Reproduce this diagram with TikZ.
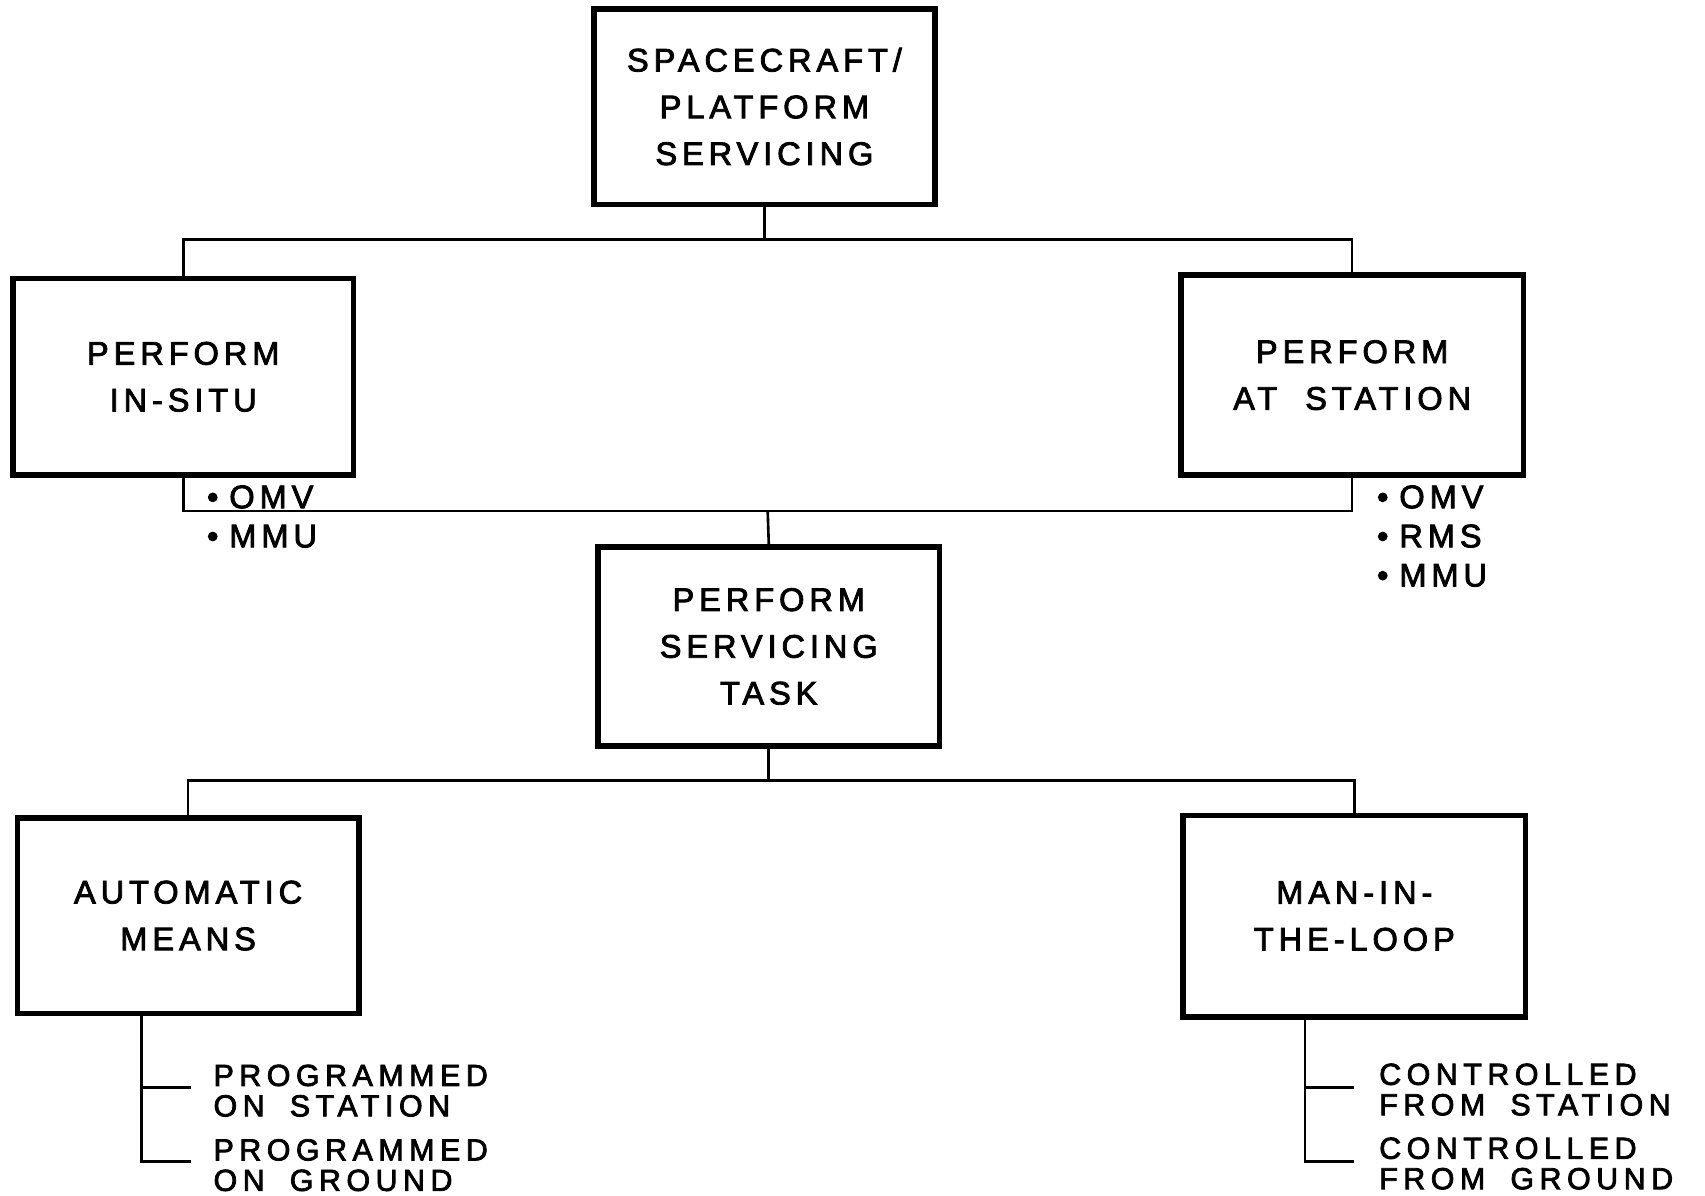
\documentclass[tikz,border=0pt]{standalone}
\usepackage{fontspec}
\setmainfont{Liberation Sans}
\newfontfamily\boxfont[LetterSpace=15,WordSpace=2.0,FakeBold=2.5]{Liberation Sans}
\newfontfamily\leaffont[LetterSpace=18,WordSpace=1.8,FakeBold=2.5]{Liberation Sans}
\begin{document}
\begin{tikzpicture}[x=0.5pt,y=-0.5pt,
  box/.style={draw,line width=2.6pt,inner sep=0pt,align=center,
    font=\boxfont\fontsize{15}{21.5}\selectfont},
  link/.style={line width=1.2pt},
  tag/.style={inner sep=0pt,anchor=west,align=left,
    font=\boxfont\fontsize{15}{18}\selectfont},
  leaf/.style={inner sep=0pt,anchor=west,align=left,
    font=\leaffont\fontsize{14}{14}\selectfont}]
\useasboundingbox (0,0) rectangle (1568,1099);

% boxes
\node[box,minimum width=157pt,minimum height=90pt] (top) at (703,98)
  {SPACECRAFT/\\PLATFORM\\SERVICING};
\node[box,minimum width=156.5pt,minimum height=90.5pt] (insitu) at (168.5,346.5)
  {PERFORM\\IN-SITU};
\node[box,minimum width=157.5pt,minimum height=92pt] (atst) at (1243.5,345)
  {PERFORM\\AT STATION};
\node[box,minimum width=157pt,minimum height=91.5pt] (task) at (707,594.5)
  {PERFORM\\SERVICING\\TASK};
\node[box,minimum width=157pt,minimum height=90pt] (auto) at (173,842)
  {AUTOMATIC\\MEANS};
\node[box,minimum width=157.5pt,minimum height=92.5pt] (mitl) at (1245.5,842.5)
  {MAN-IN-\\THE-LOOP};

% bullet lists
\node[tag] (tl) at (190,475) {•\hspace{5pt}OMV\\•\hspace{5pt}MMU};
\node[tag] (tr) at (1266,493) {•\hspace{5pt}OMV\\•\hspace{5pt}RMS\\•\hspace{5pt}MMU};

% leaf labels
\node[leaf] (p1) at (196,1003) {PROGRAMMED\\ON STATION};
\node[leaf] (p2) at (196,1071.5) {PROGRAMMED\\ON GROUND};
\node[leaf] (c1) at (1268,1002) {CONTROLLED\\FROM STATION};
\node[leaf] (c2) at (1268,1070) {CONTROLLED\\FROM GROUND};

% junctions
\coordinate (j1) at (704,220);
\coordinate (j2) at (706,470);
\coordinate (j3) at (708,718);
\coordinate (a1) at (130,1000);
\coordinate (a2) at (130,1068);
\coordinate (b1) at (1200,1000);
\coordinate (b2) at (1200,1068);

% connectors
\draw[link] (top.south) -- (top.south |- j1);
\draw[link] (insitu.north) |- (j1) -| (atst.north);
\draw[link] (insitu.south) |- (j2) -| (atst.south);
\draw[link] (j2) -- (task.north);
\draw[link] (task.south) -- (task.south |- j3);
\draw[link] (auto.north) |- (j3) -| (mitl.north);

\draw[link] (auto.south -| a1) -- (a2) -- ([xshift=-10pt]p2.west |- a2);
\draw[link] (a1) -- ([xshift=-10pt]p1.west |- a1);
\draw[link] (mitl.south -| b1) -- (b2) -- ([xshift=-11.5pt]c2.west |- b2);
\draw[link] (b1) -- ([xshift=-11.5pt]c1.west |- b1);
\end{tikzpicture}
\end{document}
